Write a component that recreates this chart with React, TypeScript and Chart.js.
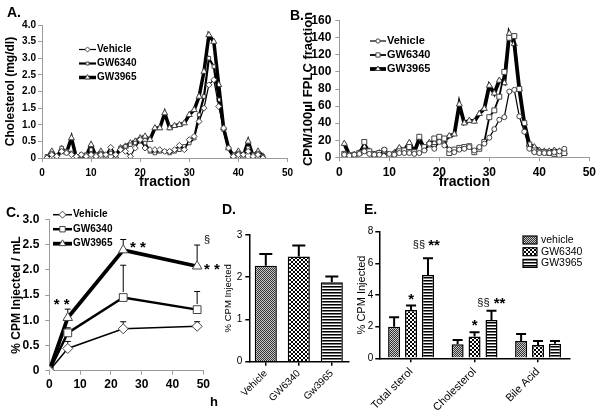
import React, { useEffect, useRef } from 'react';
import { Chart, registerables } from 'chart.js';
import { drawPoint } from 'chart.js/helpers';

Chart.register(...registerables);

const FONT = '"Liberation Sans", Arial, Helvetica, sans-serif';

// ---------------- Panel A: cholesterol FPLC ----------------
const FRACTIONS = [1, 2, 3, 4, 5, 6, 7, 8, 9, 10, 11, 12, 13, 14, 15, 16, 17, 18, 19, 20, 21, 22, 23, 24, 25, 26, 27, 28, 29, 30, 31, 32, 33, 34, 35, 36, 37, 38, 39, 40, 41, 42, 43, 44, 45];
const A_VEHICLE = [0.0, 0.1, 0.05, 0.2, 0.15, 0.1, 0.05, 0.1, 0.05, 0.1, 0.05, 0.1, 0.1, 0.32, 0.1, 0.25, 0.2, 0.05, 0.3, 0.55, 0.3, 0.25, 0.25, 0.25, 0.2, 0.2, 0.25, 0.38, 0.25, 0.55, 0.65, 1.1, 1.5, 2.2, 2.35, 1.55, 0.9, 0.3, 0.05, 0.1, 0.1, 0.2, 0.05, 0.1, 0.0];
const A_GW6340 = [0.05, 0.15, 0.05, 0.3, 0.2, 0.15, 0.05, 0.1, 0.1, 0.25, 0.1, 0.15, 0.1, 0.15, 0.1, 0.3, 0.35, 0.4, 0.45, 0.5, 0.45, 0.2, 0.15, 0.2, 0.2, 0.15, 0.2, 0.25, 0.35, 0.45, 0.6, 1.3, 1.85, 3.0, 2.75, 1.75, 0.85, 0.3, 0.1, 0.15, 0.1, 0.3, 0.1, 0.15, 0.05];
const A_GW3965 = [0.0, 0.2, 0.0, 0.27, 0.17, 0.6, 0.0, 0.07, 0.05, 0.4, 0.05, 0.2, 0.05, 0.25, 0.05, 0.3, 0.35, 0.45, 0.5, 0.6, 0.65, 0.55, 0.9, 0.9, 1.35, 0.9, 0.97, 1.0, 1.05, 1.3, 1.45, 1.85, 2.6, 3.7, 3.5, 2.2, 0.9, 0.3, 0.05, 0.2, 0.05, 0.5, 0.05, 0.2, 0.05];
const A_Y_TICKS = [0, 0.5, 1, 1.5, 2, 2.5, 3, 3.5, 4];
const FRACTION_TICKS = [0, 10, 20, 30, 40, 50];

// ---------------- Panel B: CPM FPLC ----------------
const B_VEHICLE = [3, 2, 3, 4, 7, 4, 3, 3, 9, 4, 3, 5, 5, 5, 4, 5, 8, 16, 10, 18, 14, 9, 6, 9, 10, 12, 8, 12, 16, 23, 33, 44, 47, 77, 79, 48, 30, 10, 6, 5, 5, 5, 6, 7, 10];
const B_GW6340 = [4, 2, 3, 5, 18, 7, 4, 5, 8, 1, 4, 7, 8, 12, 6, 24, 12, 15, 22, 24, 22, 5, 9, 11, 12, 13, 6, 10, 18, 47, 55, 71, 100, 140, 142, 80, 40, 15, 8, 6, 6, 5, 4, 3, 5];
const B_GW3965 = [16, 3, 3, 5, 13, 7, 3, 5, 7, 2, 5, 11, 8, 17, 6, 22, 10, 17, 17, 20, 20, 25, 27, 62, 40, 43, 42, 51, 57, 84, 75, 90, 87, 145, 133, 80, 40, 15, 12, 8, 7, 7, 8, 7, 6];
const B_Y_TICKS = [0, 20, 40, 60, 80, 100, 120, 140, 160];

// ---------------- Panel C: plasma time course ----------------
const C_HOURS = [0, 6, 24, 48];
const C_VEHICLE = [0, 0.44, 0.83, 0.88];
const C_VEHICLE_ERR = [0, 0.14, 0.14, 0.09];
const C_GW6340 = [0, 0.75, 1.45, 1.21];
const C_GW6340_ERR = [0, 0.1, 0.64, 0.36];
const C_GW3965 = [0, 1.05, 2.39, 2.07];
const C_GW3965_ERR = [0, 0.17, 0.21, 0.42];
const C_Y_TICKS = [0, 0.5, 1, 1.5, 2, 2.5, 3];
const C_X_TICKS = [0, 10, 20, 30, 40, 50];
const C_NOTES = [
  { x: 4, y: 1.23, text: '* *', kind: 'star' },
  { x: 28.8, y: 2.36, text: '* *', kind: 'star' },
  { x: 51.2, y: 2.53, text: '§', kind: 'sect' },
  { x: 52.8, y: 1.92, text: '* *', kind: 'star' },
];

// ---------------- Panel D ----------------
const D_LABELS = ['Vehicle', 'GW6340', 'Gw3965'];
const D_VALUES = [2.27, 2.49, 1.88];
const D_ERRORS = [0.28, 0.26, 0.14];
const D_Y_TICKS = [0, 1, 2, 3];

// ---------------- Panel E ----------------
const E_LABELS = ['Total sterol', 'Cholesterol', 'Bile Acid'];
const E_VEHICLE = [2.0, 0.88, 1.09];
const E_VEHICLE_ERR = [0.59, 0.28, 0.45];
const E_GW6340 = [3.06, 1.37, 0.84];
const E_GW6340_ERR = [0.27, 0.28, 0.25];
const E_GW3965 = [5.27, 2.42, 0.92];
const E_GW3965_ERR = [1.06, 0.59, 0.17];
const E_Y_TICKS = [0, 2, 4, 6, 8];
const E_NOTES = [
  { cat: 0, ds: 1, y: 3.45, text: '*', kind: 'star', dx: 0 },
  { cat: 0, ds: 2, y: 6.98, text: '§§', kind: 'sect', dx: -9 },
  { cat: 0, ds: 2, y: 6.85, text: '**', kind: 'star', dx: 6 },
  { cat: 1, ds: 1, y: 1.8, text: '*', kind: 'star', dx: 0 },
  { cat: 1, ds: 2, y: 3.31, text: '§§', kind: 'sect', dx: -8 },
  { cat: 1, ds: 2, y: 3.2, text: '**', kind: 'star', dx: 8 },
];

// ---------------- helpers ----------------
const fixedTicks = (values: number[]) => (scale: any) => {
  scale.ticks = values.map((v) => ({ value: v }));
};
const pts = (xs: number[], ys: number[]) => xs.map((x, i) => ({ x, y: ys[i] }));

function makePattern(kind: string): CanvasPattern {
  const c = document.createElement('canvas');
  if (kind === 'fine') {
    c.width = 2; c.height = 2;
    const g = c.getContext('2d')!;
    g.fillStyle = '#c8c8c8'; g.fillRect(0, 0, 2, 2);
    g.fillStyle = '#333'; g.fillRect(0, 0, 1, 1); g.fillRect(1, 1, 1, 1);
    return g.createPattern(c, 'repeat')!;
  }
  if (kind === 'check') {
    c.width = 4; c.height = 4;
    const g = c.getContext('2d')!;
    g.fillStyle = '#fff'; g.fillRect(0, 0, 4, 4);
    g.fillStyle = '#000'; g.fillRect(0, 0, 2, 2); g.fillRect(2, 2, 2, 2);
    return g.createPattern(c, 'repeat')!;
  }
  c.width = 2; c.height = 3;
  const g = c.getContext('2d')!;
  g.fillStyle = '#fff'; g.fillRect(0, 0, 2, 3);
  g.fillStyle = '#000'; g.fillRect(0, 0, 2, 1);
  g.fillStyle = '#777'; g.fillRect(0, 1, 2, 1);
  return g.createPattern(c, 'repeat')!;
}

const lineLegend = {
  id: 'lineLegend',
  afterDraw(chart: any, _a: any, opts: any) {
    if (!opts || opts.x === undefined) return;
    const ctx = chart.ctx;
    ctx.save();
    chart.data.datasets.forEach((ds: any, i: number) => {
      const y = opts.y + i * opts.dy;
      ctx.strokeStyle = '#000';
      ctx.lineWidth = ds.borderWidth;
      ctx.beginPath();
      ctx.moveTo(opts.x, y);
      ctx.lineTo(opts.x + opts.len, y);
      ctx.stroke();
      ctx.fillStyle = '#fff';
      ctx.strokeStyle = ds.pointBorderColor;
      ctx.lineWidth = ds.pointBorderWidth;
      const r = opts.radiusScale ? ds.pointRadius * opts.radiusScale : ds.pointRadius;
      drawPoint(ctx, { pointStyle: ds.pointStyle, radius: r, rotation: 0, borderWidth: ds.pointBorderWidth } as any, opts.x + opts.len / 2, y);
      ctx.fillStyle = '#000';
      ctx.font = opts.fontSpec;
      ctx.textAlign = 'left';
      ctx.textBaseline = 'middle';
      ctx.fillText(ds.label, opts.x + opts.len + opts.gap, y);
    });
    ctx.restore();
  },
};

const boxLegend = {
  id: 'boxLegend',
  afterDraw(chart: any, _a: any, opts: any) {
    if (!opts || opts.x === undefined) return;
    const ctx = chart.ctx;
    ctx.save();
    chart.data.datasets.forEach((ds: any, i: number) => {
      const y = opts.y + i * opts.dy;
      ctx.fillStyle = ds.backgroundColor;
      ctx.fillRect(opts.x, y - opts.h / 2, opts.w, opts.h);
      ctx.strokeStyle = '#000';
      ctx.lineWidth = 1.2;
      ctx.strokeRect(opts.x, y - opts.h / 2, opts.w, opts.h);
      ctx.fillStyle = '#000';
      ctx.font = opts.fontSpec;
      ctx.textAlign = 'left';
      ctx.textBaseline = 'middle';
      ctx.fillText(ds.label, opts.x + opts.w + opts.gap, y);
    });
    ctx.restore();
  },
};

const errorBars = {
  id: 'errorBars',
  afterDatasetsDraw(chart: any, _a: any, opts: any) {
    const ctx = chart.ctx;
    const ys = chart.scales.y;
    ctx.save();
    chart.data.datasets.forEach((ds: any, i: number) => {
      if (!ds.errors) return;
      const meta = chart.getDatasetMeta(i);
      meta.data.forEach((el: any, j: number) => {
        const e = ds.errors[j];
        if (!e) return;
        const raw = ds.data[j];
        const v = typeof raw === 'number' ? raw : raw.y;
        const top = ys.getPixelForValue(v + e);
        const start = chart.config.type === 'bar' ? el.y : el.y - (ds.pointRadius || 0);
        ctx.strokeStyle = '#000';
        ctx.lineWidth = opts.lineWidth;
        ctx.beginPath();
        ctx.moveTo(el.x, start);
        ctx.lineTo(el.x, top);
        ctx.moveTo(el.x - opts.cap, top);
        ctx.lineTo(el.x + opts.cap, top);
        ctx.stroke();
      });
    });
    ctx.restore();
  },
};

const NOTE_FONTS: Record<string, string> = {
  star: `bold 15px ${FONT}`,
  sect: `11px ${FONT}`,
};

const notes = {
  id: 'notes',
  afterDraw(chart: any, _a: any, opts: any) {
    if (!opts || !opts.items) return;
    const ctx = chart.ctx;
    ctx.save();
    ctx.fillStyle = '#000';
    ctx.textAlign = 'center';
    ctx.textBaseline = 'alphabetic';
    for (const it of opts.items) {
      let px: number;
      if (it.ds !== undefined) px = chart.getDatasetMeta(it.ds).data[it.cat].x + (it.dx || 0);
      else px = chart.scales.x.getPixelForValue(it.x);
      const py = chart.scales.y.getPixelForValue(it.y);
      ctx.font = NOTE_FONTS[it.kind];
      ctx.fillText(it.text, px, py);
    }
    ctx.restore();
  },
};

// ---------------- chart configs ----------------
const lightAxis = (o: any) => ({
  border: { display: true, color: '#9a9a9a', width: 1 },
  grid: { display: true, drawOnChartArea: false, drawTicks: true, tickLength: 4, color: '#9a9a9a' },
  ...o,
});
const darkAxis = (o: any) => ({
  border: { display: true, color: '#000', width: 1.5 },
  grid: { display: true, drawOnChartArea: false, drawTicks: true, tickLength: 4, color: '#000', lineWidth: 1.5, offset: false },
  ...o,
});

function lineDs(label: string, data: any[], style: any) {
  return {
    label,
    data,
    borderColor: '#000',
    pointBackgroundColor: '#fff',
    pointBorderColor: '#444',
    pointBorderWidth: 1,
    tension: 0,
    ...style,
  };
}

function configA(): any {
  return {
    type: 'line',
    data: {
      datasets: [
        lineDs('Vehicle', pts(FRACTIONS, A_VEHICLE), { borderWidth: 1.2, pointStyle: 'rectRot', pointRadius: 3 }),
        lineDs('GW6340', pts(FRACTIONS, A_GW6340), { borderWidth: 2.2, pointStyle: 'rect', pointRadius: 2.5 }),
        lineDs('GW3965', pts(FRACTIONS, A_GW3965), { borderWidth: 3.5, pointStyle: 'triangle', pointRadius: 3.5 }),
      ],
    },
    options: {
      responsive: false, animation: false, devicePixelRatio: 1,
      layout: { padding: { left: 0, top: 25, right: 5, bottom: 0 } },
      plugins: {
        legend: { display: false }, tooltip: { enabled: false },
        lineLegend: { x: 79, y: 49.5, dy: 14, len: 17, gap: 1, radiusScale: 0.85, fontSpec: `bold 10px ${FONT}` },
      },
      scales: {
        x: lightAxis({
          type: 'linear', min: 0, max: 50,
          afterBuildTicks: fixedTicks(FRACTION_TICKS),
          afterFit: (s: any) => { s.height = 37; },
          ticks: { font: { family: FONT, size: 10, weight: 'bold' }, color: '#000', padding: 5, maxRotation: 0, autoSkip: false },
          title: { display: true, text: 'fraction', color: '#000', font: { family: FONT, size: 14, weight: 'bold' }, padding: { top: 0, bottom: 4 } },
        }),
        y: lightAxis({
          min: 0, max: 4,
          afterBuildTicks: fixedTicks(A_Y_TICKS),
          afterFit: (s: any) => { s.width = 42; },
          ticks: { font: { family: FONT, size: 10, weight: 'bold' }, color: '#000', padding: 2, autoSkip: false },
          title: { display: true, text: 'Cholesterol (mg/dl)', color: '#000', font: { family: FONT, size: 12, weight: 'bold' }, padding: { top: 3, bottom: 0 } },
        }),
      },
    },
    plugins: [lineLegend],
  };
}

function configB(): any {
  return {
    type: 'line',
    data: {
      datasets: [
        lineDs('Vehicle', pts(FRACTIONS, B_VEHICLE), { borderWidth: 1.2, pointStyle: 'circle', pointRadius: 2.5 }),
        lineDs('GW6340', pts(FRACTIONS, B_GW6340), { borderWidth: 1.8, pointStyle: 'rect', pointRadius: 3.5 }),
        lineDs('GW3965', pts(FRACTIONS, B_GW3965), { borderWidth: 3.8, pointStyle: 'triangle', pointRadius: 3.5 }),
      ],
    },
    options: {
      responsive: false, animation: false, devicePixelRatio: 1,
      layout: { padding: { left: 0, top: 20.7, right: 10.7, bottom: 0 } },
      plugins: {
        legend: { display: false }, tooltip: { enabled: false },
        lineLegend: { x: 72, y: 41, dy: 14, len: 16, gap: 1, radiusScale: 0.85, fontSpec: `bold 11px ${FONT}` },
      },
      scales: {
        x: lightAxis({
          type: 'linear', min: 0, max: 50,
          afterBuildTicks: fixedTicks(FRACTION_TICKS),
          afterFit: (s: any) => { s.height = 37.7; },
          ticks: { font: { family: FONT, size: 12, weight: 'bold' }, color: '#000', padding: 4, maxRotation: 0, autoSkip: false },
          title: { display: true, text: 'fraction', color: '#000', font: { family: FONT, size: 14, weight: 'bold' }, padding: { top: 0, bottom: 4 } },
        }),
        y: lightAxis({
          min: 0, max: 160,
          afterBuildTicks: fixedTicks(B_Y_TICKS),
          afterFit: (s: any) => { s.width = 41.3; },
          ticks: { font: { family: FONT, size: 12, weight: 'bold' }, color: '#000', padding: 4, autoSkip: false },
          title: { display: true, text: 'CPM/100µl FPLC fraction', color: '#000', font: { family: FONT, size: 13, weight: 'bold' }, padding: { top: 3, bottom: 0 } },
        }),
      },
    },
    plugins: [lineLegend],
  };
}

function configC(): any {
  return {
    type: 'line',
    data: {
      datasets: [
        lineDs('Vehicle', pts(C_HOURS, C_VEHICLE), { errors: C_VEHICLE_ERR, borderWidth: 1.5, pointStyle: 'rectRot', pointRadius: 5 }),
        lineDs('GW6340', pts(C_HOURS, C_GW6340), { errors: C_GW6340_ERR, borderWidth: 2.5, pointStyle: 'rect', pointRadius: 5.5 }),
        lineDs('GW3965', pts(C_HOURS, C_GW3965), { errors: C_GW3965_ERR, borderWidth: 3.8, pointStyle: 'triangle', pointRadius: 5.5 }),
      ],
    },
    options: {
      responsive: false, animation: false, devicePixelRatio: 1,
      layout: { padding: { left: 0, top: 14.3, right: 18.7, bottom: 0 } },
      plugins: {
        legend: { display: false }, tooltip: { enabled: false },
        lineLegend: { x: 53, y: 9.7, dy: 14.5, len: 19, gap: 1, radiusScale: 0.7, fontSpec: `bold 10px ${FONT}` },
        errorBars: { lineWidth: 1, cap: 3 },
        notes: { items: C_NOTES },
      },
      scales: {
        x: lightAxis({
          type: 'linear', min: 0, max: 50,
          afterBuildTicks: fixedTicks(C_X_TICKS),
          afterFit: (s: any) => { s.height = 40.3; },
          ticks: { font: { family: FONT, size: 12, weight: 'bold' }, color: '#000', padding: 3, maxRotation: 0, autoSkip: false },
        }),
        y: lightAxis({
          min: 0, max: 3,
          afterBuildTicks: fixedTicks(C_Y_TICKS),
          afterFit: (s: any) => { s.width = 49.3; },
          ticks: { font: { family: FONT, size: 12, weight: 'bold' }, color: '#000', padding: 6, autoSkip: false },
          title: { display: true, text: '% CPM Injected / mL', color: '#000', font: { family: FONT, size: 12, weight: 'bold' }, padding: { top: 9.5, bottom: 0 } },
        }),
      },
    },
    plugins: [lineLegend, errorBars, notes],
  };
}

function configD(): any {
  return {
    type: 'bar',
    data: {
      labels: D_LABELS,
      datasets: [{
        label: '% CPM Injected',
        data: D_VALUES,
        errors: D_ERRORS,
        backgroundColor: [makePattern('fine'), makePattern('check'), makePattern('stripe')],
        borderColor: '#000', borderWidth: 1.5,
        categoryPercentage: 1, barPercentage: 0.67,
      }],
    },
    options: {
      responsive: false, animation: false, devicePixelRatio: 1,
      layout: { padding: { left: 0, top: 30, right: 1.7, bottom: 0 } },
      plugins: { legend: { display: false }, tooltip: { enabled: false }, errorBars: { lineWidth: 2, cap: 6.5 } },
      scales: {
        x: darkAxis({
          afterFit: (s: any) => { s.height = 49.3; },
          ticks: { font: { family: FONT, size: 10 }, color: '#000', padding: 2, minRotation: 45, maxRotation: 45, autoSkip: false },
        }),
        y: darkAxis({
          min: 0, max: 3,
          afterBuildTicks: fixedTicks(D_Y_TICKS),
          afterFit: (s: any) => { s.width = 34.3; },
          ticks: { font: { family: FONT, size: 10 }, color: '#000', padding: 3, autoSkip: false },
          title: { display: true, text: '% CPM Injected', color: '#000', font: { family: FONT, size: 9.5 }, padding: { top: 7.5, bottom: 0 } },
        }),
      },
    },
    plugins: [errorBars],
  };
}

function configE(): any {
  const common = { borderColor: '#000', borderWidth: 1.5, categoryPercentage: 0.8, barPercentage: 0.71 };
  return {
    type: 'bar',
    data: {
      labels: E_LABELS,
      datasets: [
        { label: 'vehicle', data: E_VEHICLE, errors: E_VEHICLE_ERR, backgroundColor: makePattern('fine'), ...common },
        { label: 'GW6340', data: E_GW6340, errors: E_GW6340_ERR, backgroundColor: makePattern('check'), ...common },
        { label: 'GW3965', data: E_GW3965, errors: E_GW3965_ERR, backgroundColor: makePattern('stripe'), ...common },
      ],
    },
    options: {
      responsive: false, animation: false, devicePixelRatio: 1,
      layout: { padding: { left: 0, top: 26.7, right: 30.2, bottom: 0 } },
      plugins: {
        legend: { display: false }, tooltip: { enabled: false },
        errorBars: { lineWidth: 2, cap: 5 },
        boxLegend: { x: 173, y: 35, dy: 11.7, w: 14, h: 8, gap: 4, fontSpec: `10.5px ${FONT}` },
        notes: { items: E_NOTES },
      },
      scales: {
        x: darkAxis({
          afterFit: (s: any) => { s.height = 52.7; },
          ticks: { font: { family: FONT, size: 11 }, color: '#000', padding: 3, minRotation: 45, maxRotation: 45, autoSkip: false },
        }),
        y: darkAxis({
          min: 0, max: 8,
          afterBuildTicks: fixedTicks(E_Y_TICKS),
          afterFit: (s: any) => { s.width = 29.3; },
          ticks: { font: { family: FONT, size: 10 }, color: '#000', padding: 2, autoSkip: false },
          title: { display: true, text: '% CPM Injected', color: '#000', font: { family: FONT, size: 11 }, padding: { top: 5, bottom: 0 } },
        }),
      },
    },
    plugins: [errorBars, boxLegend, notes],
  };
}

function Panel({ left, top, width, height, make }: { left: number; top: number; width: number; height: number; make: () => any }) {
  const ref = useRef<HTMLCanvasElement>(null);
  useEffect(() => {
    const chart = new Chart(ref.current!, make());
    return () => chart.destroy();
  }, []);
  return <canvas ref={ref} width={width} height={height} style={{ position: 'absolute', left, top, width, height }} />;
}

const labelStyle = (left: number, top: number, size = 14): React.CSSProperties => ({
  position: 'absolute', left, top, font: `bold ${size}px ${FONT}`, lineHeight: 1, color: '#000',
});

export default function App() {
  return (
    <div style={{ position: 'fixed', left: 0, top: 0, width: 600, height: 411, background: '#fff', overflow: 'hidden' }}>
      <Panel left={0} top={0} width={298} height={195} make={configA} />
      <Panel left={298} top={0} width={302} height={195} make={configB} />
      <Panel left={0} top={205} width={222} height={206} make={configC} />
      <Panel left={215} top={205} width={135} height={206} make={configD} />
      <Panel left={350} top={205} width={250} height={206} make={configE} />
      <div style={labelStyle(7, 5)}>A.</div>
      <div style={labelStyle(290, 8)}>B.</div>
      <div style={labelStyle(6, 205)}>C.</div>
      <div style={labelStyle(222, 202)}>D.</div>
      <div style={labelStyle(364, 202)}>E.</div>
      <div style={labelStyle(210, 395, 13)}>h</div>
    </div>
  );
}
